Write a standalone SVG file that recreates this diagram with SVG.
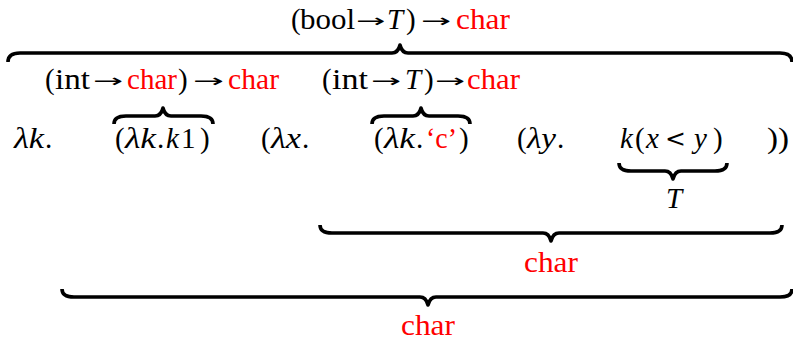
<svg xmlns="http://www.w3.org/2000/svg" width="793" height="340" viewBox="0 0 793 340">
<style>
text{font-family:"Liberation Serif","DejaVu Serif",serif;font-size:29px;fill:#000}
.i{font-style:italic}
.r{fill:#ff0000}
text.a{font-family:"DejaVu Sans","Liberation Sans",sans-serif;font-size:18px}
text.lt{font-family:"DejaVu Sans","Liberation Sans",sans-serif;font-size:25px}
.b{fill:none;stroke:#000;stroke-width:3.6;stroke-linecap:butt;stroke-linejoin:round}
</style>
<rect width="793" height="340" fill="#fff"/>
<g id="connectors">
<path class="b" d="M8,62 Q8,53 20,53 L392,53 Q398,53 400,45 Q402,53 408,53 L780,53 Q792,53 792,62"/>
<path class="b" d="M114,124 Q114,116 126,116 L155,116 Q161,116 163,108 Q165,116 171,116 L201,116 Q213,116 213,124"/>
<path class="b" d="M372,124 Q372,116 384,116 L413,116 Q419,116 421,108 Q423,116 429,116 L458,116 Q470,116 470,124"/>
<path class="b" d="M619,163 Q619,171 631,171 L665,171 Q671,171 673,179 Q675,171 681,171 L715,171 Q727,171 727,163"/>
<path class="b" d="M320,225 Q320,233 332,233 L543,233 Q549,233 551,241 Q553,233 559,233 L770,233 Q782,233 782,225"/>
<path class="b" d="M62,289 Q62,297 74,297 L420,297 Q426,297 428,305 Q430,297 436,297 L780,297 Q792,297 792,289"/>
</g>
<g id="type-top">
<text x="291" y="29">(</text>
<text x="300" y="29" textLength="55" lengthAdjust="spacingAndGlyphs">bool</text>
<text class="a" transform="translate(356,27) scale(1.95,1)">→</text>
<text x="387" y="29" class="i">T</text>
<text x="406" y="29">)</text>
<text class="a" transform="translate(421,27) scale(2,1)">→</text>
<text x="456" y="29" class="r" textLength="54" lengthAdjust="spacingAndGlyphs">char</text>
</g>
<g id="type-left">
<text x="45" y="89">(</text>
<text x="55" y="89" textLength="35" lengthAdjust="spacingAndGlyphs">int</text>
<text class="a" transform="translate(93,87) scale(2,1)">→</text>
<text x="127" y="89" class="r" textLength="50" lengthAdjust="spacingAndGlyphs">char</text>
<text x="178" y="89">)</text>
<text class="a" transform="translate(193,87) scale(2.05,1)">→</text>
<text x="228" y="89" class="r" textLength="51" lengthAdjust="spacingAndGlyphs">char</text>
</g>
<g id="type-mid">
<text x="322" y="89">(</text>
<text x="332" y="89" textLength="36" lengthAdjust="spacingAndGlyphs">int</text>
<text class="a" transform="translate(371,87) scale(2,1)">→</text>
<text x="405" y="89" class="i">T</text>
<text x="424" y="89">)</text>
<text class="a" transform="translate(435,87) scale(2,1)">→</text>
<text x="467" y="89" class="r" textLength="53" lengthAdjust="spacingAndGlyphs">char</text>
</g>
<g id="term-lamk">
<text x="14" y="148" class="i" textLength="30" lengthAdjust="spacingAndGlyphs">λk</text>
<text x="45" y="148">.</text>
</g>
<g id="term-k1">
<text x="115" y="148">(</text>
<text x="125" y="148" class="i" textLength="31" lengthAdjust="spacingAndGlyphs">λk</text>
<text x="157" y="148">.</text>
<text x="166" y="148" class="i">k</text>
<text x="181" y="148">1</text>
<text x="200" y="148">)</text>
</g>
<g id="term-lamx">
<text x="261" y="148">(</text>
<text x="271" y="148" class="i" textLength="30" lengthAdjust="spacingAndGlyphs">λx</text>
<text x="302" y="148">.</text>
</g>
<g id="term-c">
<text x="374" y="148">(</text>
<text x="384" y="148" class="i" textLength="31" lengthAdjust="spacingAndGlyphs">λk</text>
<text x="416" y="148">.</text>
<text x="426" y="148" class="r" textLength="31" lengthAdjust="spacingAndGlyphs">‘c’</text>
<text x="459" y="148">)</text>
</g>
<g id="term-lamy">
<text x="517" y="148">(</text>
<text x="527" y="148" class="i" textLength="29" lengthAdjust="spacingAndGlyphs">λy</text>
<text x="557" y="148">.</text>
</g>
<g id="term-kxy">
<text x="620" y="148" class="i">k</text>
<text x="635" y="148">(</text>
<text x="646" y="148" class="i">x</text>
<text class="lt" x="665" y="147">&lt;</text>
<text x="694" y="148" class="i">y</text>
<text x="713" y="148">)</text>
</g>
<g id="term-close">
<text x="767" y="148" textLength="22" lengthAdjust="spacingAndGlyphs">))</text>
</g>
<g id="label-T">
<text x="674" y="208" class="i" text-anchor="middle">T</text>
</g>
<g id="label-char-mid">
<text x="551" y="272" class="r" text-anchor="middle" textLength="54" lengthAdjust="spacingAndGlyphs">char</text>
</g>
<g id="label-char-bottom">
<text x="428" y="335" class="r" text-anchor="middle" textLength="54" lengthAdjust="spacingAndGlyphs">char</text>
</g>
</svg>
